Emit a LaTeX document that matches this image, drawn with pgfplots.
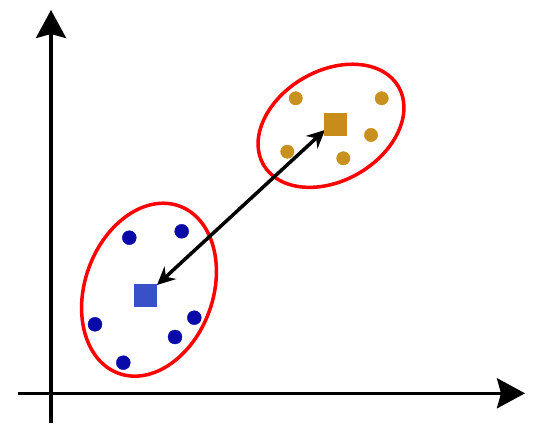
\documentclass[border=0pt]{standalone}
\usepackage{pgfplots}
\pgfplotsset{compat=1.18}
\usetikzlibrary{arrows.meta}
\definecolor{ptblue}{HTML}{0A0AA8}
\definecolor{sqblue}{HTML}{3A50C8}
\definecolor{ptorange}{HTML}{C8901E}
\definecolor{sqorange}{HTML}{C88C1A}
\begin{document}
\begin{tikzpicture}
\begin{axis}[
  width=559pt, height=442pt, scale only axis,
  xmin=0, xmax=559, ymin=0, ymax=442,
  hide axis, clip=false,
]
\addplot[draw=none, forget plot] coordinates {(0,0) (559,442)};
% axes
\addplot[black, line width=3.5pt, -{Stealth[length=28pt,width=30pt,inset=4pt]}] coordinates {(51,19) (51,432)};
\addplot[black, line width=3.5pt, -{Stealth[length=28pt,width=30pt,inset=4pt]}] coordinates {(18,48.7) (525,48.7)};
% ellipses
\draw[red, line width=3.5pt, rotate around={70:(axis cs:149,152.3)}] (axis cs:149,152.3) ellipse [x radius=89pt, y radius=64pt];
\draw[red, line width=3.5pt, rotate around={30:(axis cs:331,316.2)}] (axis cs:331,316.2) ellipse [x radius=78pt, y radius=55pt];
% double arrow
\addplot[black, line width=3.5pt, {Stealth[length=18pt,width=17pt]}-{Stealth[length=18pt,width=17pt]}] coordinates {(157,157) (325,312)};
% blue points
\addplot[only marks, mark=*, mark size=7pt, ptblue, mark options={draw=ptblue, fill=ptblue}] coordinates {
(129.3,204.3) (181.7,210.7) (95,117.7) (194.3,124.3) (175,105) (123.3,79.3)};
% orange points
\addplot[only marks, mark=*, mark size=6.7pt, ptorange, mark options={draw=ptorange, fill=ptorange}] coordinates {
(295.7,343.7) (381.7,343.7) (371,307) (287.3,290.3) (343.3,283.7)};
% centroids
\addplot[only marks, mark=square*, mark size=11pt, sqblue, mark options={draw=sqblue, fill=sqblue}] coordinates {(144.7,147)};
\addplot[only marks, mark=square*, mark size=11pt, sqorange, mark options={draw=sqorange, fill=sqorange}] coordinates {(335,318)};
\end{axis}
\end{tikzpicture}
\end{document}
